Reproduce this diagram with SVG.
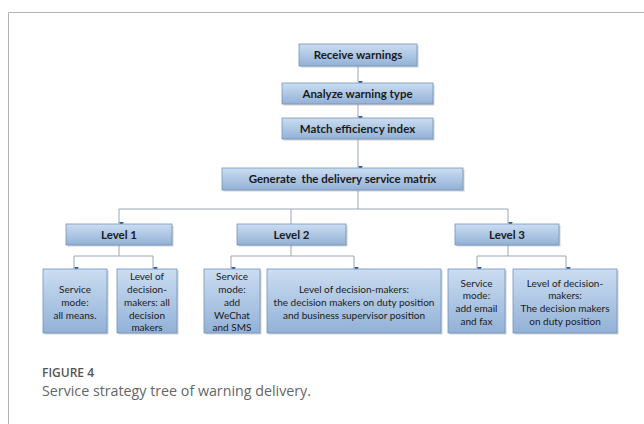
<svg xmlns="http://www.w3.org/2000/svg" width="644" height="424" viewBox="0 0 644 424">
<style>
.box{fill:url(#g);stroke:#7393bb;stroke-width:0.8}
.sh{fill:#8c8c8c;opacity:0.4}
.t{font-family:Lato,"Liberation Sans",sans-serif;font-size:10px;fill:#1a1a1a;text-anchor:middle}
.b{font-weight:bold;font-size:11.5px}
.c{fill:none;stroke:#9aa6b4;stroke-width:1}
.a{fill:none;stroke:#9aa6b4;stroke-width:1;marker-end:url(#ah)}
</style>
<defs>
<linearGradient id="g" x1="0" y1="0" x2="0" y2="1">
<stop offset="0" stop-color="#cbddf1"/>
<stop offset="1" stop-color="#92b1d7"/>
</linearGradient>
<marker id="ah" viewBox="0 0 6 6" refX="3" refY="6" markerWidth="5" markerHeight="5" orient="auto-start-reverse" markerUnits="userSpaceOnUse">
<path d="M0,0 L6,0 L3,6 Z" fill="#2f5e9c" transform="rotate(-90 3 3)"/>
</marker>
</defs>
<rect x="0" y="0" width="644" height="424" fill="#fff"/>
<path d="M8.5,424 V12.5 H644" fill="none" stroke="#b3b3b3" stroke-width="1"/>

<g id="connectors">
<line class="a" x1="358" y1="66" x2="358" y2="83"/>
<line class="a" x1="358" y1="104" x2="358" y2="118"/>
<line class="a" x1="358" y1="139" x2="358" y2="168"/>
<polyline class="c" points="358,190 358,209"/>
<polyline class="c" points="119,209 508,209"/>
<line class="a" x1="119" y1="209" x2="119" y2="224"/>
<line class="c" x1="291" y1="209" x2="291" y2="224"/>
<line class="a" x1="508" y1="209" x2="508" y2="224"/>
<polyline class="c" points="119,245 119,256"/>
<polyline class="c" points="74,256 153,256"/>
<line class="a" x1="74" y1="256" x2="74" y2="269"/>
<line class="a" x1="153" y1="256" x2="153" y2="269"/>
<polyline class="c" points="291,245 291,256"/>
<polyline class="c" points="231,256 354,256"/>
<line class="a" x1="231" y1="256" x2="231" y2="269"/>
<line class="a" x1="354" y1="256" x2="354" y2="269"/>
<polyline class="c" points="508,245 508,256"/>
<polyline class="c" points="477,256 566,256"/>
<line class="a" x1="477" y1="256" x2="477" y2="269"/>
<line class="a" x1="566" y1="256" x2="566" y2="269"/>
</g>

<g id="receive">
<rect class="sh" x="300.5" y="45.5" width="118" height="22"/>
<rect class="box" x="299" y="44" width="118" height="22"/>
<text class="t b" x="358" y="59">Receive warnings</text>
</g>
<g id="analyze">
<rect class="sh" x="283.5" y="84.5" width="151" height="21"/>
<rect class="box" x="282" y="83" width="151" height="21"/>
<text class="t b" x="357.5" y="97.5">Analyze warning type</text>
</g>
<g id="match">
<rect class="sh" x="283.5" y="119.5" width="151" height="21"/>
<rect class="box" x="282" y="118" width="151" height="21"/>
<text class="t b" x="357.5" y="132.5">Match efficiency index</text>
</g>
<g id="generate">
<rect class="sh" x="223.5" y="169.5" width="241" height="22"/>
<rect class="box" x="222" y="168" width="241" height="22"/>
<text class="t b" x="342.5" y="183" xml:space="preserve">Generate  the delivery service matrix</text>
</g>

<g id="level1">
<rect class="sh" x="67.5" y="225.5" width="106" height="21"/>
<rect class="box" x="66" y="224" width="106" height="21"/>
<text class="t b" x="119" y="238.5">Level 1</text>
</g>
<g id="level2">
<rect class="sh" x="238.5" y="225.5" width="109" height="21"/>
<rect class="box" x="237" y="224" width="109" height="21"/>
<text class="t b" x="291.5" y="238.5">Level 2</text>
</g>
<g id="level3">
<rect class="sh" x="456.5" y="225.5" width="104" height="21"/>
<rect class="box" x="455" y="224" width="104" height="21"/>
<text class="t b" x="507" y="238.5">Level 3</text>
</g>

<g id="l1-service">
<rect class="sh" x="44.5" y="270.5" width="64" height="64"/>
<rect class="box" x="43" y="269" width="64" height="64"/>
<text class="t" x="75" y="293">Service</text>
<text class="t" x="75" y="305.8">mode:</text>
<text class="t" x="75" y="318.6">all means.</text>
</g>
<g id="l1-decision">
<rect class="sh" x="118.5" y="270.5" width="60" height="64"/>
<rect class="box" x="117" y="269" width="60" height="64"/>
<text class="t" x="147" y="280.2">Level of</text>
<text class="t" x="147" y="293">decision-</text>
<text class="t" x="147" y="305.8">makers: all</text>
<text class="t" x="147" y="318.6">decision</text>
<text class="t" x="147" y="331.4">makers</text>
</g>
<g id="l2-service">
<rect class="sh" x="205.5" y="270.5" width="56" height="64"/>
<rect class="box" x="204" y="269" width="56" height="64"/>
<text class="t" x="232" y="280.2">Service</text>
<text class="t" x="232" y="293">mode:</text>
<text class="t" x="232" y="305.8">add</text>
<text class="t" x="232" y="318.6">WeChat</text>
<text class="t" x="232" y="331.4">and SMS</text>
</g>
<g id="l2-decision">
<rect class="sh" x="268.5" y="270.5" width="174" height="64"/>
<rect class="box" x="267" y="269" width="174" height="64"/>
<text class="t" x="354" y="293">Level of decision-makers:</text>
<text class="t" x="354" y="305.8">the decision makers on duty position</text>
<text class="t" x="354" y="318.6">and business supervisor position</text>
</g>
<g id="l3-service">
<rect class="sh" x="449.5" y="270.5" width="57" height="64"/>
<rect class="box" x="448" y="269" width="57" height="64"/>
<text class="t" x="476.5" y="286.6">Service</text>
<text class="t" x="476.5" y="299.4">mode:</text>
<text class="t" x="476.5" y="312.2">add email</text>
<text class="t" x="476.5" y="325">and fax</text>
</g>
<g id="l3-decision">
<rect class="sh" x="514.5" y="270.5" width="104" height="64"/>
<rect class="box" x="513" y="269" width="104" height="64"/>
<text class="t" x="565" y="286.6">Level of decision-</text>
<text class="t" x="565" y="299.4">makers:</text>
<text class="t" x="565" y="312.2">The decision makers</text>
<text class="t" x="565" y="325">on duty position</text>
</g>

<g id="caption">
<text x="42" y="376.5" font-family="'Open Sans','Noto Sans',sans-serif" font-size="12" font-weight="600" fill="#555">FIGURE 4</text>
<text x="42" y="396" font-family="'Open Sans','Noto Sans',sans-serif" font-size="14.5" fill="#666" textLength="269" lengthAdjust="spacingAndGlyphs">Service strategy tree of warning delivery.</text>
</g>
</svg>
